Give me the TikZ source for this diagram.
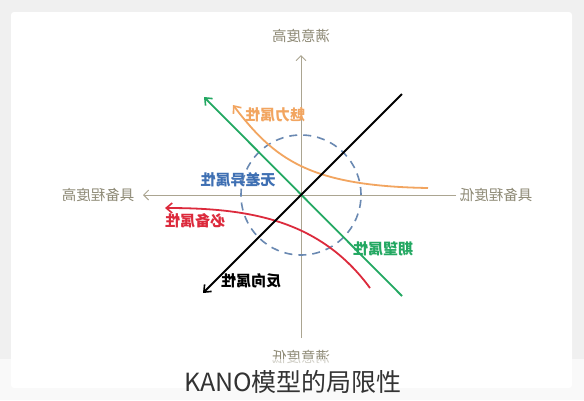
\documentclass[tikz,border=0pt]{standalone}
\usepackage{graphicx}
\usepackage{fontspec}
\setmainfont{Noto Sans CJK SC}
\usetikzlibrary{arrows.meta}
\definecolor{axisgray}{HTML}{ABA591}
\definecolor{labelgray}{HTML}{8E8A76}
\definecolor{meiliorange}{HTML}{F2A560}
\definecolor{qiwanggreen}{HTML}{23A862}
\definecolor{bibeired}{HTML}{DC2A3C}
\definecolor{wuchablue}{HTML}{6A89B2}
\definecolor{wuchatext}{HTML}{3F70B3}

\begin{document}
\begin{tikzpicture}[x=1pt,y=-1pt,
  axis/.style={draw=axisgray, line width=0.9pt},
  axislabel/.style={text=labelgray, font=\fontsize{14.5}{16}\selectfont, inner sep=0pt},
  curve/.style={line width=1.8pt, -{Straight Barb[length=6pt,width=10pt,line width=1.6pt]}},
  attr/.style={font=\fontsize{15}{17}\selectfont\bfseries, inner sep=0pt}]
\useasboundingbox (0,0) rectangle (584,400);
\fill[black!6] (0,0) rectangle (584,400);
\fill[white, rounded corners=3pt] (11,12) rectangle (572,388);

\coordinate (O) at (301,195);
\coordinate (T) at (301,55);
\coordinate (B) at (301,338);
\coordinate (L) at (143,195);
\coordinate (R) at (456,195);
\coordinate (K1) at (402,94);
\coordinate (K2) at (203,293);
\coordinate (G1) at (402,296);
\coordinate (G2) at (204,97);

% axes
\draw[axis, -{Straight Barb[length=5pt,width=10pt]}] (B) -- (T);
\draw[axis, -{Straight Barb[length=5pt,width=10pt]}] (R) -- (L);

% indifferent zone
\draw[wuchablue, line width=1.6pt, dash pattern=on 8pt off 6pt] (O) circle [radius=60pt];

\draw[curve, color=meiliorange] (428,188) .. controls (310,186) and (275,160) .. (233,105);
\draw[curve, color=bibeired] (370,288) .. controls (320,220) and (250,208) .. (165,208);
\draw[curve, color=qiwanggreen] (G1) -- (G2);
\draw[curve, color=black] (K1) -- (K2);

\node[axislabel] (up) at (301,36) {\reflectbox{满意度高}};
\node[axislabel] (down) at (301,357) {\reflectbox{满意度低}};
\node[axislabel] (left) at (98,195) {\reflectbox{具备程度高}};
\node[axislabel] (right) at (496,195) {\reflectbox{具备程度低}};

\node[attr, text=meiliorange] (meili) at (275,115) {\reflectbox{魅力属性}};
\node[attr, text=wuchatext] (wucha) at (238,180) {\reflectbox{无差异属性}};
\node[attr, text=bibeired] (bibei) at (195,221) {\reflectbox{必备属性}};
\node[attr, text=qiwanggreen] (qiwang) at (383,249) {\reflectbox{期望属性}};
\node[attr, text=black] (fanxiang) at (251,281) {\reflectbox{反向属性}};

% caption strip
\fill[white, opacity=0.6] (0,359) rectangle (584,400);
\node[text=black!80, font=\fontsize{25}{28}\selectfont, inner sep=0pt] (caption) at (293,382) {KANO模型的局限性};
\end{tikzpicture}
\end{document}
